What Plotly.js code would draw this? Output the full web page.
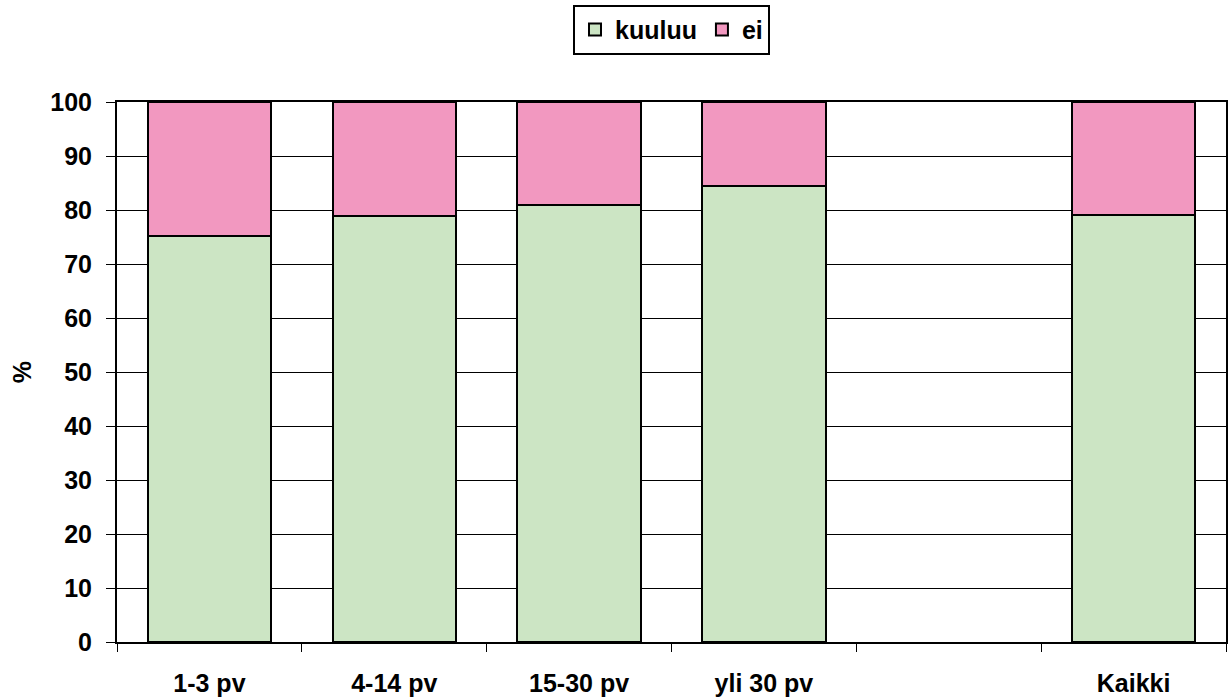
<!DOCTYPE html>
<html>
<head>
<meta charset="utf-8">
<script src="https://cdn.plot.ly/plotly-3.0.1.min.js"></script>
<style>html,body{margin:0;padding:0;background:#fff;}#chart{width:1229px;height:700px;}</style>
</head>
<body>
<div id="chart"></div>
<script>
const categories = ['1-3 pv', '4-14 pv', '15-30 pv', 'yli 30 pv', ' ', 'Kaikki'];
const kuuluu = [75.2, 78.8, 81.0, 84.4, null, 79.0];
const ei = [24.8, 21.2, 19.0, 15.6, null, 21.0];
const yTicks = [0, 10, 20, 30, 40, 50, 60, 70, 80, 90, 100];

const FAM = 'Liberation Sans, Arial, sans-serif';
const bold = {family: FAM, size: 25, color: '#000', weight: 'bold'};

const traces = [
  {type: 'bar', name: 'kuuluu', x: categories, y: kuuluu,
   marker: {color: '#CCE5C4', line: {color: '#000', width: 2}}},
  {type: 'bar', name: 'ei', x: categories, y: ei,
   marker: {color: '#F298C0', line: {color: '#000', width: 2}}}
];

const layout = {
  width: 1229, height: 700,
  margin: {l: 117, r: 3, t: 102, b: 58},
  barmode: 'stack', bargap: 0.333,
  paper_bgcolor: '#fff', plot_bgcolor: '#fff',
  font: bold,
  showlegend: true,
  legend: {orientation: 'h', x: 0.5, xanchor: 'center', y: 1.18, yanchor: 'top',
           bordercolor: '#000', borderwidth: 2, font: bold,
           traceorder: 'normal', itemwidth: 30, tracegroupgap: 0},
  xaxis: {type: 'category', showgrid: false, showline: true, linecolor: '#000', linewidth: 2, mirror: true,
          ticks: 'outside', ticklen: 8, tickcolor: '#000', tickwidth: 1, tickson: 'boundaries',
          ticklabelstandoff: 18,
          tickfont: bold, fixedrange: true},
  yaxis: {range: [0, 100], tickvals: yTicks, ticktext: yTicks.map(String), showgrid: true, gridcolor: '#000', gridwidth: 1,
          showline: true, linecolor: '#000', linewidth: 2, mirror: true, zeroline: false,
          ticks: 'outside', ticklen: 9, tickcolor: '#000', tickwidth: 1, ticklabelstandoff: 9,
          tickfont: bold,
          title: {text: '%', font: bold, standoff: 12}}
};

Plotly.newPlot('chart', traces, layout, {displayModeBar: false, staticPlot: true});
</script>
</body>
</html>
